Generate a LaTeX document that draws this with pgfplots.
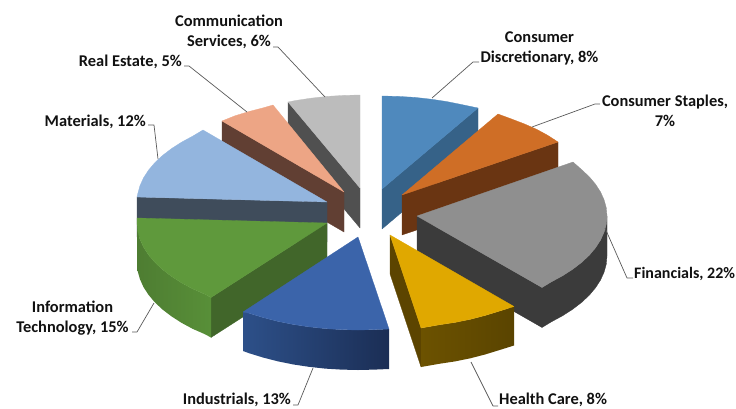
\documentclass[border=0pt]{standalone}
\usepackage{pgfplots}
\usepackage{fontspec}
\setmainfont{Carlito}
\pgfplotsset{compat=1.18}
\definecolor{txt}{HTML}{111111}
\definecolor{ldr}{HTML}{595959}
\tikzset{
  lbl/.style={font=\fontsize{16.4}{20}\selectfont\bfseries,text=txt,inner sep=0pt,align=center},
  ld/.style={draw=ldr,line width=0.7pt}
}
\begin{document}
\begin{tikzpicture}[x=1pt,y=1pt]
\useasboundingbox (0,0) rectangle (736,408);
\begin{axis}[
  at={(0,0)},anchor=south west,
  scale only axis,width=736pt,height=408pt,
  xmin=0,xmax=736,ymin=0,ymax=408,y dir=reverse,
  hide axis,clip=true,
  every axis plot/.append style={mark=none,line join=round,line width=0.3pt}
]
% Communication Services
\addplot[fill={rgb,255:red,80;green,80;blue,80},draw={rgb,255:red,80;green,80;blue,80}] coordinates {(288,102)(360,188)(360,228)(288,142)} -- cycle;
\addplot[fill={rgb,255:red,188;green,188;blue,188},draw={rgb,255:red,188;green,188;blue,188}] coordinates {(360,188)(360,95)(343.4,95.4)(327,96.4)(310.8,98.2)(295,100.6)(288,102)} -- cycle;
% Real Estate
\addplot[fill={rgb,255:red,97;green,63;blue,51},draw={rgb,255:red,97;green,63;blue,51}] coordinates {(222,121)(344,192)(344,232)(222,161)} -- cycle;
\addplot[fill={rgb,255:red,237;green,165;blue,133},draw={rgb,255:red,237;green,165;blue,133}] coordinates {(344,192)(273,105)(263.7,107.7)(249,111.5)(235,115.8)(222,121)} -- cycle;
% Materials
\addplot[fill={rgb,255:red,63;green,76;blue,91},draw={rgb,255:red,63;green,76;blue,91}] coordinates {(137,197)(327,202)(327,242)(137,237)} -- cycle;
\addplot[fill={rgb,255:red,147;green,181;blue,222},draw={rgb,255:red,147;green,181;blue,222}] coordinates {(327,202)(203,130)(192.6,136.2)(181.5,142.2)(171.4,148.7)(162.5,155.5)(154.8,162.7)(148.5,170.2)(143.5,177.9)(139.9,185.9)(137.7,193.9)(137,197)} -- cycle;
% Information Technology
\addplot[fill={rgb,255:red,65;green,102;blue,42},draw={rgb,255:red,65;green,102;blue,42}] coordinates {(327,223)(211,297.5)(211,337.5)(327,263)} -- cycle;
\addplot[left color={rgb,255:red,78;green,125;blue,50},right color={rgb,255:red,88;green,143;blue,56},draw=none] coordinates {(137,218)(137,223)(137.7,231.1)(139.9,239.1)(143.5,247.1)(148.5,254.8)(154.8,262.3)(162.5,269.5)(171.4,276.3)(181.5,282.8)(192.6,288.8)(204.9,294.2)(211,297.5)(211,337.5)(204.9,334.2)(192.6,328.8)(181.5,322.8)(171.4,316.3)(162.5,309.5)(154.8,302.3)(148.5,294.8)(143.5,287.1)(139.9,279.1)(137.7,271.1)(137,263)(137,258)} -- cycle;
\addplot[fill={rgb,255:red,95;green,153;blue,60},draw={rgb,255:red,95;green,153;blue,60}] coordinates {(327,223)(137,218)(137,223)(137.7,231.1)(139.9,239.1)(143.5,247.1)(148.5,254.8)(154.8,262.3)(162.5,269.5)(171.4,276.3)(181.5,282.8)(192.6,288.8)(204.9,294.2)(211,297.5)} -- cycle;
% Consumer Discretionary
\addplot[fill={rgb,255:red,54;green,98;blue,136},draw={rgb,255:red,54;green,98;blue,136}] coordinates {(382,189)(478,108)(478,148)(382,229)} -- cycle;
\addplot[fill={rgb,255:red,79;green,137;blue,189},draw={rgb,255:red,79;green,137;blue,189}] coordinates {(382,189)(382,96)(398.6,96.4)(415,97.4)(431.2,99.2)(447,101.6)(462.3,104.7)(478,108)} -- cycle;
% Consumer Staples
\addplot[fill={rgb,255:red,106;green,53;blue,18},draw={rgb,255:red,106;green,53;blue,18}] coordinates {(402,195)(558,142)(558,182)(402,235)} -- cycle;
\addplot[fill={rgb,255:red,207;green,110;blue,38},draw={rgb,255:red,207;green,110;blue,38}] coordinates {(402,195)(498,114)(511,118.8)(524.1,123.8)(536.4,129.2)(547.5,135.2)(558,142)} -- cycle;
% Financials
\addplot[fill={rgb,255:red,59;green,59;blue,59},draw={rgb,255:red,59;green,59;blue,59}] coordinates {(417,216)(542,287.5)(551.4,281.8)(562.5,275.8)(572.6,269.3)(581.5,262.5)(589.2,255.3)(595.5,247.8)(600.5,240.1)(604.1,232.1)(606.3,224.1)(607,216)(607,256)(606.3,264.1)(604.1,272.1)(600.5,280.1)(595.5,287.8)(589.2,295.3)(581.5,302.5)(572.6,309.3)(562.5,315.8)(551.4,321.8)(542,327.5)(417,256)} -- cycle;
\addplot[fill={rgb,255:red,143;green,143;blue,143},draw={rgb,255:red,143;green,143;blue,143}] coordinates {(417,216)(542,287.5)(551.4,281.8)(562.5,275.8)(572.6,269.3)(581.5,262.5)(589.2,255.3)(595.5,247.8)(600.5,240.1)(604.1,232.1)(606.3,224.1)(607,216)(606.3,207.9)(604.1,199.9)(600.5,191.9)(595.5,184.2)(589.2,176.7)(581.5,169.5)(573,162)} -- cycle;
% Health Care
\addplot[fill={rgb,255:red,92;green,68;blue,0},draw={rgb,255:red,92;green,68;blue,0}] coordinates {(390,235)(421,328)(421,367)(390,274)} -- cycle;
\addplot[left color={rgb,255:red,108;green,82;blue,0},right color={rgb,255:red,90;green,68;blue,0},draw=none] coordinates {(421,328)(439.2,324.8)(455,322.4)(470.3,319.3)(485,315.5)(499,311.2)(514,306.5)(514,345.5)(499,350.2)(485,354.5)(470.3,358.3)(455,361.4)(439.2,363.8)(421,367)} -- cycle;
\addplot[fill={rgb,255:red,224;green,168;blue,0},draw={rgb,255:red,224;green,168;blue,0}] coordinates {(390,235)(421,328)(439.2,324.8)(455,322.4)(470.3,319.3)(485,315.5)(499,311.2)(514,306.5)} -- cycle;
% Industrials
\addplot[left color={rgb,255:red,45;green,80;blue,137},right color={rgb,255:red,27;green,46;blue,85},draw=none] coordinates {(243,312)(249,313.2)(263,317.5)(277.7,321.3)(293,324.4)(308.8,326.8)(325,328.6)(341.4,329.6)(358,330)(374.6,329.6)(389,329)(389,369)(374.6,369.6)(358,370)(341.4,369.6)(325,368.6)(308.8,366.8)(293,364.4)(277.7,361.3)(263,357.5)(249,353.2)(243,351)} -- cycle;
\addplot[fill={rgb,255:red,59;green,100;blue,170},draw={rgb,255:red,59;green,100;blue,170}] coordinates {(358,237)(243,312)(249,313.2)(263,317.5)(277.7,321.3)(293,324.4)(308.8,326.8)(325,328.6)(341.4,329.6)(358,330)(374.6,329.6)(389,329)} -- cycle;
% Leader lines
\addplot[ld] coordinates {(273,47)(278,47)(325,97)};
\addplot[ld] coordinates {(184,66)(189,66)(247,112)};
\addplot[ld] coordinates {(148,125)(154,125)(158,159)};
\addplot[ld] coordinates {(479,62)(473,62)(432,98)};
\addplot[ld] coordinates {(600,104)(595,104)(532,127)};
\addplot[ld] coordinates {(633,278)(627,278)(605,228)};
\addplot[ld] coordinates {(498,406)(493,406)(471,362)};
\addplot[ld] coordinates {(293,405)(298,405)(313,368)};
\addplot[ld] coordinates {(132,332)(137,332)(154,303)};
% Labels
\node[lbl] at (axis cs:229,32) {Communication\\Services, 6\%};
\node[lbl,anchor=east] at (axis cs:182,62) {Real Estate, 5\%};
\node[lbl,anchor=east] at (axis cs:146,122) {Materials, 12\%};
\node[lbl] at (axis cs:539.5,48) {Consumer\\Discretionary, 8\%};
\node[lbl] at (axis cs:665,111) {Consumer Staples,\\7\%};
\node[lbl,anchor=west,font=\fontsize{16}{20}\selectfont\bfseries] at (axis cs:634,274) {Financials, 22\%};
\node[lbl,anchor=west,font=\fontsize{16.4}{20}\selectfont\bfseries] at (axis cs:499,400) {Health Care, 8\%};
\node[lbl,anchor=east] at (axis cs:291,400) {Industrials, 13\%};
\node[lbl] at (axis cs:72.5,318) {Information\\Technology, 15\%};
\end{axis}
\end{tikzpicture}
\end{document}
